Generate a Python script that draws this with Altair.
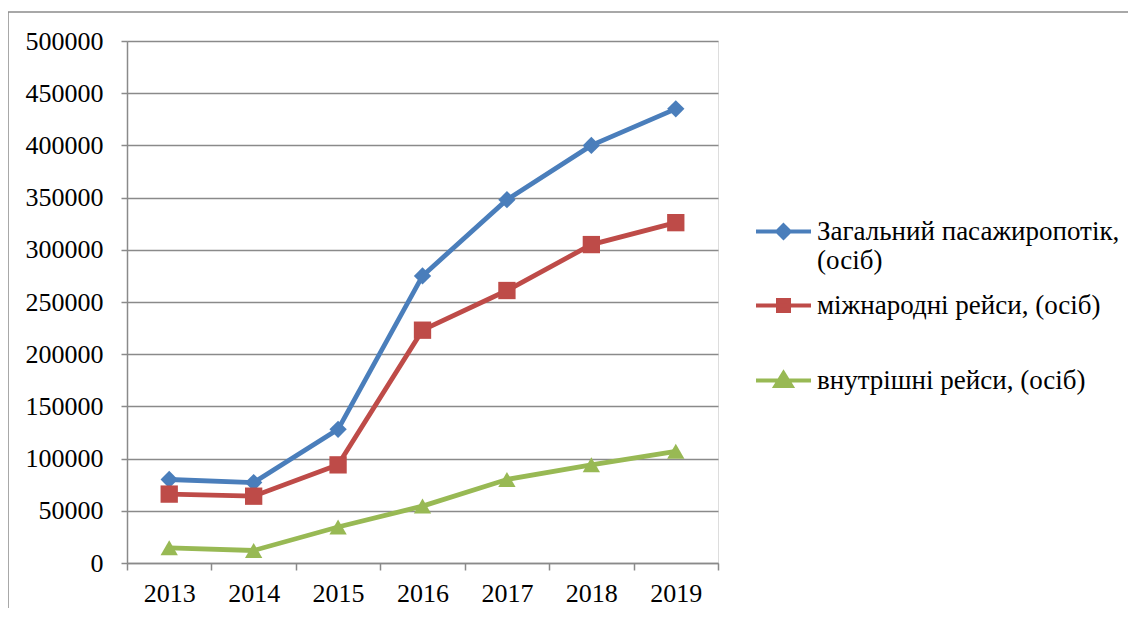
import altair as alt
import pandas as pd

years = ['2013', '2014', '2015', '2016', '2017', '2018', '2019']
series_names = ['Загальний пасажиропотік, (осіб)', 'міжнародні рейси, (осіб)', 'внутрішні рейси, (осіб)']
total = [80000, 77000, 128000, 275000, 348000, 400000, 435000]
international = [66000, 64000, 94000, 223000, 261000, 305000, 326000]
domestic = [14500, 12000, 34500, 54500, 80000, 94000, 107000]
colors = ['#4A7EBB', '#BE4B48', '#98B954']
marker_shapes = ['diamond', 'square', 'triangle-up']
y_ticks = [0, 50000, 100000, 150000, 200000, 250000, 300000, 350000, 400000, 450000, 500000]

rows = []
for name, vals in zip(series_names, [total, international, domestic]):
    for yr, v in zip(years, vals):
        rows.append({'year': yr, 'series': name, 'value': v})
df = pd.DataFrame(rows)

FONT = 'Liberation Serif'
GRID = '#8a8a8a'
W, H = 591, 522

legend_shape_expr = (
    "datum.value == '" + series_names[0] + "' ? 'M-2.75,0H2.75M0,-0.62L0.62,0L0,0.62L-0.62,0Z' : "
    "datum.value == '" + series_names[1] + "' ? 'M-2.75,0H2.75M-0.55,-0.55H0.55V0.55H-0.55Z' : "
    "'M-2.75,0H2.75M0,-0.75L0.8,0.55H-0.8Z'"
)
label_expr = (
    "datum.label == '" + series_names[0] + "' ? ['Загальний пасажиропотік,', '(осіб)'] : [datum.label, '']"
)

legend = alt.Legend(
    title=None, orient='none', legendX=643, legendY=177, direction='vertical',
    labelFont=FONT, labelFontSize=27, labelColor='black', labelLimit=800,
    labelOffset=20, symbolSize=400, symbolStrokeWidth=4, rowPadding=17, padding=0,
    labelBaseline='middle', labelExpr=label_expr,
    symbolType={'expr': legend_shape_expr},
    symbolFillColor={'expr': "scale('color', datum.value)"},
    symbolStrokeColor={'expr': "scale('color', datum.value)"},
)

color = alt.Color('series:N', scale=alt.Scale(domain=series_names, range=colors), legend=legend)

base = alt.Chart(df).encode(
    x=alt.X('year:O', sort=years,
            scale=alt.Scale(type='band', paddingInner=0, paddingOuter=0),
            axis=alt.Axis(title=None, labelAngle=0, tickBand='extent', grid=False,
                          labelFont=FONT, labelFontSize=26, labelColor='black',
                          labelPadding=10, tickSize=7, tickColor=GRID, domainColor=GRID,
                          tickWidth=1.5, domainWidth=1.5)),
    y=alt.Y('value:Q', scale=alt.Scale(domain=[0, 500000], nice=False, zero=True),
            axis=alt.Axis(title=None, values=y_ticks, format='d', grid=True,
                          gridColor=GRID, gridWidth=1.5, labelFont=FONT, labelFontSize=26,
                          labelColor='black', labelPadding=18, tickSize=6, tickColor=GRID,
                          domainColor=GRID, tickWidth=1.5, domainWidth=1.5)),
    color=color,
)

lines = base.mark_line(strokeWidth=4.8)
point_layers = [
    base.transform_filter(alt.datum.series == name).mark_point(
        filled=True, opacity=1, size=300, shape=shp)
    for name, shp in zip(series_names, marker_shapes)
]

border = alt.Chart(pd.DataFrame({'k': [0]})).mark_rect(
    fillOpacity=0, stroke='#8c8c8c', strokeWidth=1.5
).encode(
    x=alt.value(-119), x2=alt.value(1200), y=alt.value(-29), y2=alt.value(800)
)

chart = alt.layer(border, lines, *point_layers).properties(
    width=W, height=H,
    autosize=alt.AutoSizeParams(type='none'),
    padding={'left': 119, 'top': 33, 'right': 410, 'bottom': 45},
).configure_view(stroke=None).configure(background='white')

chart.save('out.html', embed_options={'renderer': 'svg', 'actions': False})
